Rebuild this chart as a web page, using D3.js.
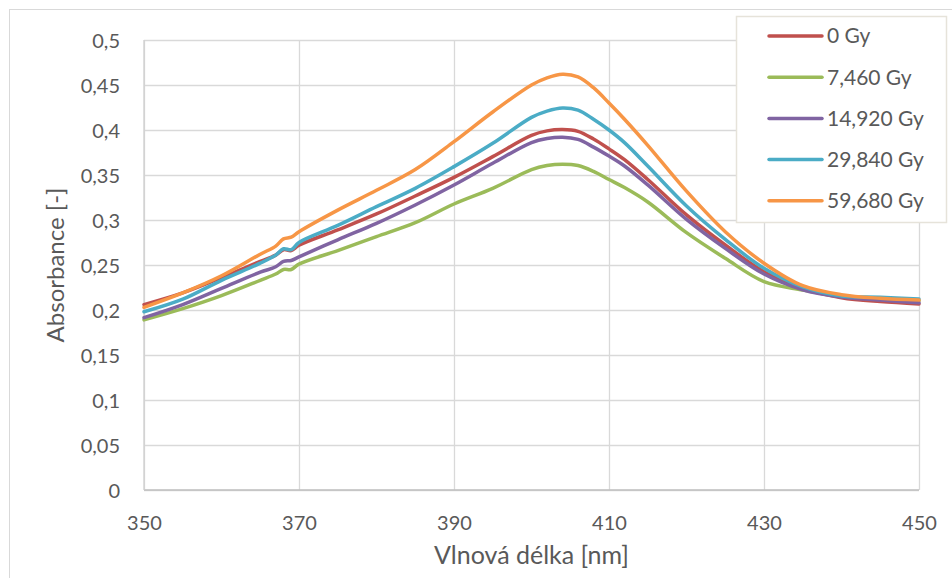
<!DOCTYPE html>
<html>
<head>
<meta charset="utf-8">
<script src="https://cdn.jsdelivr.net/npm/d3@7"></script>
<style>
  body { margin: 0; background: #fff; }
  text { font-family: Lato, "Open Sans", sans-serif; fill: #595959; }
</style>
</head>
<body>
<svg width="952" height="578"></svg>
<script>
// wavelengths in nm
const wavelengths = [350, 355, 360, 365, 367, 368, 369, 370, 375, 380, 385, 390, 395, 400, 402, 404, 406, 408, 410, 412, 415, 420, 425, 430, 435, 440, 445, 450];

const dose0 = [0.206, 0.219, 0.236, 0.254, 0.261, 0.267, 0.266, 0.272, 0.289, 0.3067, 0.3267, 0.3474, 0.3704, 0.394, 0.399, 0.4005, 0.3985, 0.39, 0.379, 0.367, 0.345, 0.3056, 0.2722, 0.2426, 0.224, 0.2137, 0.2093, 0.2067];
const dose7460 = [0.189, 0.2015, 0.216, 0.233, 0.24, 0.245, 0.245, 0.251, 0.266, 0.2815, 0.297, 0.3178, 0.3352, 0.356, 0.3605, 0.362, 0.3605, 0.354, 0.345, 0.336, 0.32, 0.2859, 0.2574, 0.2315, 0.2222, 0.215, 0.212, 0.2104];
const dose14920 = [0.1915, 0.206, 0.224, 0.242, 0.248, 0.254, 0.255, 0.259, 0.278, 0.2963, 0.3167, 0.3389, 0.363, 0.386, 0.3905, 0.392, 0.3895, 0.381, 0.371, 0.36, 0.339, 0.3007, 0.2685, 0.24, 0.2225, 0.2145, 0.2111, 0.208];
const dose29840 = [0.198, 0.212, 0.233, 0.252, 0.261, 0.268, 0.267, 0.275, 0.294, 0.3148, 0.3352, 0.3593, 0.3852, 0.414, 0.421, 0.4245, 0.422, 0.412, 0.4, 0.386, 0.36, 0.3156, 0.2785, 0.2463, 0.2256, 0.2156, 0.2141, 0.2122];
const dose59680 = [0.203, 0.219, 0.238, 0.262, 0.271, 0.279, 0.281, 0.287, 0.311, 0.333, 0.356, 0.387, 0.42, 0.45, 0.458, 0.462, 0.459, 0.447, 0.43, 0.412, 0.383, 0.332, 0.287, 0.252, 0.227, 0.217, 0.213, 0.211];

const seriesNames = ["0 Gy", "7,460 Gy", "14,920 Gy", "29,840 Gy", "59,680 Gy"];
const seriesValues = [dose0, dose7460, dose14920, dose29840, dose59680];
const seriesColors = ["#C0504D", "#9BBB59", "#8064A2", "#4BACC6", "#F79646"];

const xTicks = [350, 370, 390, 410, 430, 450];
const yTicks = [0, 0.05, 0.1, 0.15, 0.2, 0.25, 0.3, 0.35, 0.4, 0.45, 0.5];

const margin = { left: 144, right: 33, top: 40, bottom: 88 };
const svg = d3.select("svg");
const width = +svg.attr("width");
const height = +svg.attr("height");
const innerWidth = width - margin.left - margin.right;
const innerHeight = height - margin.top - margin.bottom;

// chart area border
svg.append("rect")
  .attr("x", 9.5).attr("y", 9.5)
  .attr("width", width - 9).attr("height", height - 9)
  .attr("fill", "#fff")
  .attr("stroke", "#d9d9d9");

const g = svg.append("g")
  .attr("transform", `translate(${margin.left},${margin.top})`);

const xScale = d3.scaleLinear().domain([350, 450]).range([0, innerWidth]);
const yScale = d3.scaleLinear().domain([0, 0.5]).range([innerHeight, 0]);

const comma = d => String(d).replace(".", ",");

const yAxis = d3.axisLeft(yScale)
  .tickValues(yTicks)
  .tickSize(-innerWidth)
  .tickPadding(24)
  .tickFormat(comma);
const xAxis = d3.axisBottom(xScale)
  .tickValues(xTicks)
  .tickSize(-innerHeight)
  .tickPadding(22)
  .tickFormat(d => d);

const yAxisG = g.append("g").call(yAxis);
const xAxisG = g.append("g")
  .attr("transform", `translate(0,${innerHeight})`)
  .call(xAxis);

[yAxisG, xAxisG].forEach(ax => {
  ax.select(".domain").remove();
  ax.selectAll(".tick line")
    .attr("stroke", "#d9d9d9")
    .attr("stroke-width", 1.3);
  ax.selectAll(".tick text")
    .attr("font-size", 20)
    .attr("fill", "#595959");
});
yAxisG.selectAll(".tick text").attr("dy", "0.35em");
xAxisG.selectAll(".tick text").attr("dy", "0.9em");

// axis lines
g.append("line")
  .attr("x1", 0).attr("x2", innerWidth)
  .attr("y1", innerHeight).attr("y2", innerHeight)
  .attr("stroke", "#bfbfbf").attr("stroke-width", 1.3);
g.append("line")
  .attr("x1", 0).attr("x2", 0)
  .attr("y1", 0).attr("y2", innerHeight)
  .attr("stroke", "#d0d0d0").attr("stroke-width", 1.3);

const line = d3.line()
  .x((d, i) => xScale(wavelengths[i]))
  .y(d => yScale(d))
  .curve(d3.curveCatmullRom.alpha(0.5));

g.selectAll("path.series")
  .data(seriesValues)
  .enter()
  .append("path")
  .attr("class", "series")
  .attr("d", d => line(d))
  .attr("fill", "none")
  .attr("stroke", (d, i) => seriesColors[i])
  .attr("stroke-width", 3.5)
  .attr("stroke-linejoin", "round")
  .attr("stroke-linecap", "round");

// axis titles
svg.append("text")
  .attr("x", margin.left + innerWidth / 2)
  .attr("y", 564)
  .attr("text-anchor", "middle")
  .attr("font-size", 25)
  .text("Vlnová délka [nm]");

svg.append("text")
  .attr("transform", `translate(64,${margin.top + innerHeight / 2}) rotate(-90)`)
  .attr("text-anchor", "middle")
  .attr("font-size", 24)
  .text("Absorbance [-]");

// legend
const legendG = svg.append("g").attr("transform", "translate(736,16)");
legendG.append("rect")
  .attr("x", 0.5).attr("y", 0.5)
  .attr("width", 210).attr("height", 206)
  .attr("fill", "#fff")
  .attr("stroke", "#e6e3da")
  .attr("stroke-width", 1.5);

const items = legendG.selectAll("g.item")
  .data(seriesNames)
  .enter()
  .append("g")
  .attr("class", "item")
  .attr("transform", (d, i) => `translate(0,${20 + i * 41.2})`);
items.append("line")
  .attr("x1", 33).attr("x2", 86)
  .attr("stroke", (d, i) => seriesColors[i])
  .attr("stroke-width", 3.5)
  .attr("stroke-linecap", "round");
items.append("text")
  .attr("x", 91)
  .attr("dy", "0.35em")
  .attr("font-size", 21)
  .text(d => d);
</script>
</body>
</html>
